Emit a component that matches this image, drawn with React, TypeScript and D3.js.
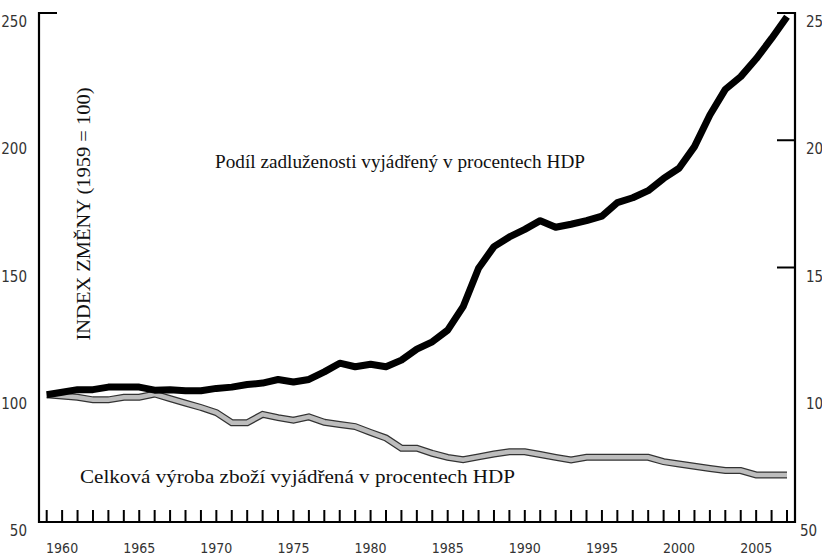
import React from "react";
import * as d3 from "d3";

const years: number[] = d3.range(1959, 2008);

const debtShare: number[] = [
  100, 101, 102, 102, 103, 103, 103, 101.8, 102, 101.6,
  101.6, 102.5, 103, 104, 104.6, 106, 105, 106, 109, 112.4,
  111, 112, 111, 113.6, 117.9, 120.8, 125.4, 134.6, 149.7, 158.2,
  162, 165, 168.4, 165.8, 167, 168.4, 170.2, 175.5, 177.4, 180.2,
  185, 189, 197.5, 209.9, 220, 225, 232, 240, 248.5,
];

const goodsShare: number[] = [
  100, 99.5, 99, 98, 98, 99, 99, 100.3, 98.5, 96.7,
  95, 93, 89, 89, 92.3, 91, 90, 91.3, 89.2, 88.3,
  87.5, 85.2, 83, 79, 79, 77, 75.4, 74.5, 75.6, 76.7,
  77.6, 77.6, 76.5, 75.4, 74.4, 75.4, 75.4, 75.4, 75.4, 75.4,
  73.7, 72.8, 71.9, 71, 70.2, 70.2, 68.5, 68.5, 68.5,
];

const leftTicks: number[] = [250, 200, 150, 100, 50];
const rightTicks: { v: number; label: string }[] = [
  { v: 250, label: "25" },
  { v: 200, label: "20" },
  { v: 150, label: "15" },
  { v: 100, label: "10" },
  { v: 50, label: "50" },
];
const yearLabels: number[] = [1960, 1965, 1970, 1975, 1980, 1985, 1990, 1995, 2000, 2005];

const yTitle = "INDEX ZMĚNY (1959 = 100)";
const debtLabel = "Podíl zadluženosti vyjádřený v procentech HDP";
const goodsLabel = "Celková výroba zboží vyjádřená v procentech HDP";

export default function App() {
  const W = 822;
  const H = 556;
  const left = 39;
  const right = 795;
  const top = 13;
  const bottom = 522;

  const x = d3.scaleLinear().domain([1959, 2007]).range([46.7, 787]);
  const y = d3.scaleLinear().domain([50, 250]).range([bottom, top]);

  const line = d3
    .line<number>()
    .x((_, i) => x(years[i]))
    .y((d) => y(d))
    .curve(d3.curveLinear);

  const numFont = "'Liberation Sans Narrow', 'DejaVu Sans Condensed', 'Roboto', sans-serif";
  const serif = "'Liberation Serif', 'DejaVu Serif', serif";

  return (
    <svg
      width={W}
      height={H}
      style={{ position: "fixed", left: 0, top: 0, background: "#fff" }}
    >
      {/* gray series: outlined */}
      <path
        d={line(goodsShare) || ""}
        fill="none"
        stroke="#333"
        strokeWidth={7}
        strokeLinejoin="miter"
        strokeLinecap="butt"
      />
      <path
        d={line(goodsShare) || ""}
        fill="none"
        stroke="#bdbdbd"
        strokeWidth={4.5}
        strokeLinejoin="miter"
        strokeLinecap="butt"
      />
      {/* black series */}
      <path
        d={line(debtShare) || ""}
        fill="none"
        stroke="#000"
        strokeWidth={7}
        strokeLinejoin="round"
        strokeLinecap="butt"
      />

      {/* axes frame */}
      <line x1={left} x2={left} y1={top - 1} y2={bottom + 1} stroke="#000" strokeWidth={2.2} />
      <line x1={right} x2={right} y1={top - 1} y2={bottom + 1} stroke="#000" strokeWidth={2.2} />
      <line x1={left} x2={right} y1={bottom} y2={bottom} stroke="#000" strokeWidth={2.2} />

      {/* left ticks */}
      {[250, 50].map((v) => (
        <line key={"lt" + v} x1={left} x2={left + 18} y1={y(v)} y2={y(v)} stroke="#000" strokeWidth={2} />
      ))}
      {/* right ticks */}
      {[250, 200, 150, 50].map((v) => (
        <line key={"rt" + v} x1={right - 18} x2={right} y1={y(v)} y2={y(v)} stroke="#000" strokeWidth={2} />
      ))}

      {/* x ticks */}
      {years.map((yr) => (
        <line
          key={"xt" + yr}
          x1={x(yr)}
          x2={x(yr)}
          y1={bottom}
          y2={bottom - 12}
          stroke="#000"
          strokeWidth={2}
        />
      ))}

      {/* left labels */}
      {leftTicks.map((v) => (
        <text
          key={"ll" + v}
          x={27}
          y={y(v) + 14}
          textAnchor="end"
          fontFamily={numFont}
          fontSize={15}
          fill="#333"
        >
          {v}
        </text>
      ))}
      {/* right labels */}
      {rightTicks.map((t) => (
        <text
          key={"rl" + t.v}
          x={t.label === "50" ? 800 : 806}
          y={y(t.v) + 14}
          textAnchor="start"
          fontFamily={numFont}
          fontSize={15}
          fill="#333"
        >
          {t.label}
        </text>
      ))}

      {/* year labels */}
      {yearLabels.map((yr) => (
        <text
          key={"yl" + yr}
          x={x(yr)}
          y={553}
          textAnchor="middle"
          fontFamily={numFont}
          fontSize={14}
          fill="#333"
        >
          {yr}
        </text>
      ))}

      {/* y title */}
      <text
        transform={`translate(90,${214}) rotate(-90)`}
        textAnchor="middle"
        fontFamily={serif}
        fontSize={19}
        fill="#111"
        textLength={253}
        lengthAdjust="spacingAndGlyphs"
      >
        {yTitle}
      </text>

      {/* annotations */}
      <text
        x={215}
        y={168}
        fontFamily={serif}
        fontSize={19}
        fill="#111"
        textLength={370}
        lengthAdjust="spacingAndGlyphs"
      >
        {debtLabel}
      </text>
      <text
        x={80}
        y={483}
        fontFamily={serif}
        fontSize={19}
        fill="#111"
        textLength={435}
        lengthAdjust="spacingAndGlyphs"
      >
        {goodsLabel}
      </text>
    </svg>
  );
}
